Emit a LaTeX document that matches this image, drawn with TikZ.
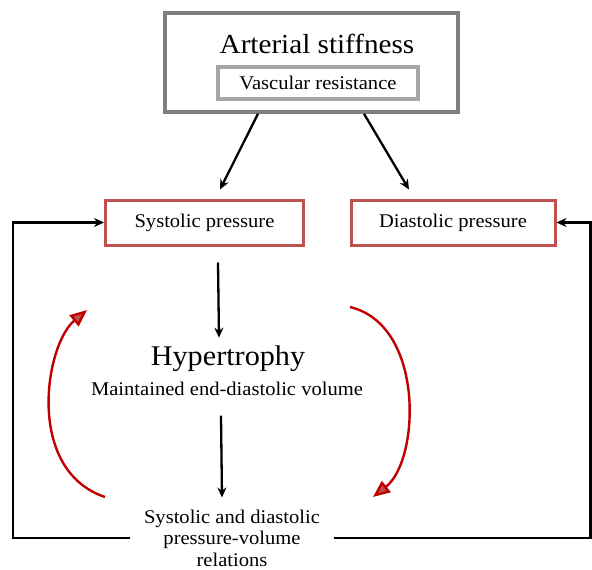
\documentclass[tikz,border=0pt]{standalone}
\usepackage{fontspec}
\setmainfont{Liberation Serif}[FakeStretch=1.06]
\usetikzlibrary{arrows.meta}
\definecolor{framegray}{HTML}{7F7F7F}
\definecolor{lightframe}{HTML}{A6A6A6}
\definecolor{boxred}{HTML}{C0504D}
\definecolor{curvered}{HTML}{C00000}
\begin{document}
\begin{tikzpicture}[x=1pt,y=-1pt,
		arr/.style={line width=2.3pt,-{Stealth[length=10pt,width=9pt]}},
		redbox/.style={draw=boxred,line width=3pt,minimum height=45pt,inner sep=0pt},
		backcurve/.style={draw=curvered,line width=2.4pt,-{Triangle[length=17pt,width=14pt,fill=boxred]}},
		txt/.style={font=\fontsize{19.4}{21.5}\selectfont}]
	\useasboundingbox (0,0) rectangle (592,570);
	
	% arterial stiffness
	\node[draw=framegray,line width=3.5pt,minimum width=293pt,minimum height=99pt] (outer) at (311.5,62.5){};
	\node[font=\fontsize{27.5}{30}\selectfont,anchor=base] (stiff) at (317,53){Arterial stiffness};
	\node[draw=lightframe,line width=3.5pt,minimum width=200pt,minimum height=32pt,txt] (vasc) at (318,83){Vascular resistance};
	
	% pressures
	\node[redbox,minimum width=198pt,txt] (sys) at (204.5,222.5){Systolic pressure};
	\node[redbox,minimum width=204pt,txt] (dia) at (453,222.5){Diastolic pressure};
	\draw[arr] ([xshift=-53.5pt]outer.south) -- ([xshift=15.5pt,yshift=9pt]sys.north);
	\draw[arr] ([xshift=52.5pt]outer.south) -- ([xshift=-44pt,yshift=9pt]dia.north);
	
	% hypertrophy
	\node[font=\fontsize{28.5}{30}\selectfont,anchor=base] (hyp) at (228,365){Hypertrophy};
	\node[txt,anchor=base] (mev) at (227,395){Maintained end-diastolic volume};
	\draw[arr] ([xshift=13.5pt,yshift=-16pt]sys.south) -- ([xshift=-9pt,yshift=4pt]hyp.north);
	
	% relations
	\node[txt,align=center,inner xsep=14pt,inner ysep=0pt] (rel) at (232,538){Systolic and diastolic\\pressure-volume\\relations};
	\draw[arr] ([xshift=-6pt,yshift=-17pt]mev.south) -- ([xshift=-10pt,yshift=12pt]rel.north);
	
	% feedback lines
	\draw[arr] (rel.west) -| ([xshift=-91pt]sys.west) -- (sys.west);
	\draw[arr] (rel.east) -| ([xshift=34pt]dia.east) -- (dia.east);
	
	% red curves
	\coordinate (lfrom) at (105,497);
	\coordinate (lto) at (87,310);
	\draw[backcurve] (lfrom) .. controls (25,470) and (45,345) .. (lto);
	\coordinate (rfrom) at (350,307);
	\coordinate (rto) at (373,497);
	\draw[backcurve] (rfrom) .. controls (425,325) and (420,460) .. (rto);
\end{tikzpicture}
\end{document}
